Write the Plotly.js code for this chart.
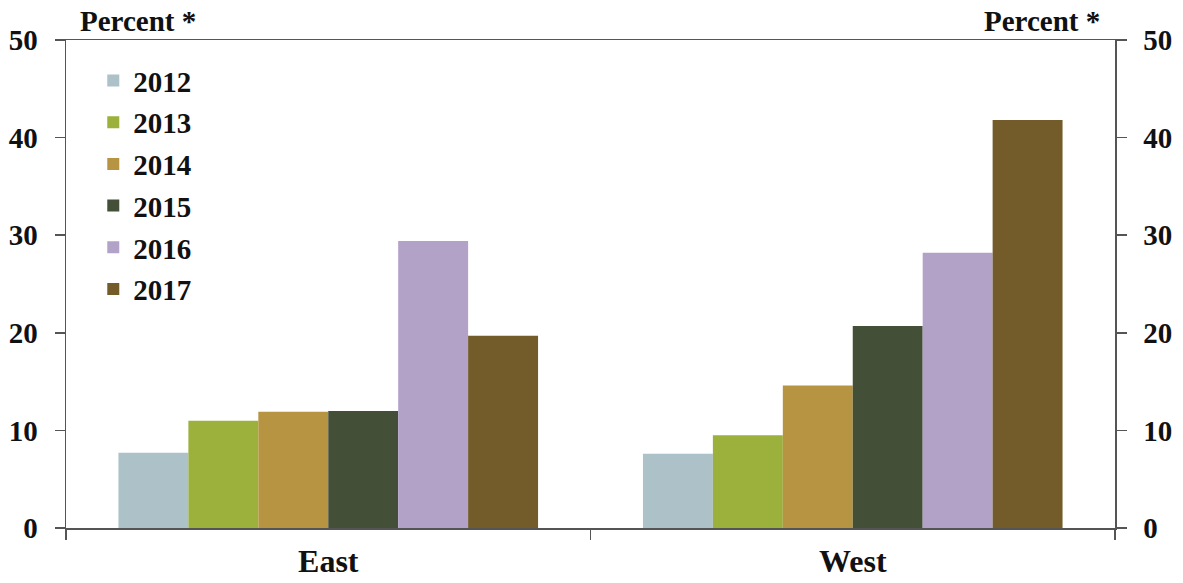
<!DOCTYPE html>
<html><head><meta charset="utf-8">
<script src="https://cdn.plot.ly/plotly-3.0.1.min.js"></script>
<style>html,body{margin:0;padding:0;background:#fff}#chart{width:1183px;height:583px}</style>
</head><body><div id="chart"></div>
<script>
const categories = ["East", "West"];
const years = ["2012", "2013", "2014", "2015", "2016", "2017"];
const v2012 = [7.7, 7.6];
const v2013 = [11.0, 9.5];
const v2014 = [11.9, 14.6];
const v2015 = [12.0, 20.7];
const v2016 = [29.4, 28.2];
const v2017 = [19.7, 41.8];
const colors = ["#adc1c8", "#9bb13b", "#b79442", "#434f36", "#b2a2c8", "#735b2a"];
const yTicks = [0, 10, 20, 30, 40, 50];

const series = [v2012, v2013, v2014, v2015, v2016, v2017];
const FONT = "Liberation Serif, Times New Roman, serif";
const traces = series.map((vals, i) => ({
  type: "bar", name: years[i], x: categories, y: vals,
  marker: {color: colors[i], line: {width: 0}},
  legendgroup: "g" + i, hoverinfo: "x+y+name"
}));
traces.push({type: "scatter", x: categories, y: [null, null], yaxis: "y2", mode: "markers", showlegend: false, hoverinfo: "skip"});

const axisLine = "#555555";
const tf = {family: FONT, size: 29, weight: "bold", color: "#111"};
const layout = {
  width: 1183, height: 583,
  margin: {l: 66, r: 68, t: 40, b: 55},
  paper_bgcolor: "#fff", plot_bgcolor: "#fff",
  font: {family: FONT, color: "#111", size: 22},
  barmode: "group", bargap: 0.2, bargroupgap: 0,
  showlegend: true,
  legend: {x: 0.026, y: 0.969, xanchor: "left", yanchor: "top", traceorder: "grouped", tracegroupgap: 1,
           font: {family: FONT, size: 29, color: "#111", weight: "bold"}, bgcolor: "rgba(0,0,0,0)", itemwidth: 30},
  xaxis: {type: "category", showline: true, linecolor: axisLine, linewidth: 1.5, mirror: true,
          ticks: "outside", tickson: "boundaries", ticklen: 10, tickcolor: axisLine, tickwidth: 1.5,
          tickfont: {family: FONT, size: 32, weight: "bold", color: "#111"}, ticklabelstandoff: 4,
          showgrid: false, zeroline: false},
  yaxis: {range: [0, 50], tickvals: yTicks, showline: true, linecolor: axisLine, linewidth: 1.5,
          ticks: "outside", ticklen: 10, tickcolor: axisLine, tickwidth: 1.5, showgrid: false, zeroline: false,
          tickfont: tf, ticklabelstandoff: 11},
  yaxis2: {range: [0, 50], tickvals: yTicks, overlaying: "y", side: "right", showline: true, linecolor: axisLine, linewidth: 1.5,
          ticks: "outside", ticklen: 10, tickcolor: axisLine, tickwidth: 1.5, showgrid: false, zeroline: false,
          tickfont: tf, ticklabelstandoff: 11},
  annotations: [
    {text: "Percent *", xref: "paper", yref: "paper", x: 0.011, y: 1.0, xanchor: "left", yanchor: "bottom", yshift: 1, showarrow: false,
     font: tf},
    {text: "Percent *", xref: "paper", yref: "paper", x: 0.988, y: 1.0, xanchor: "right", yanchor: "bottom", yshift: 1, showarrow: false,
     font: tf}
  ]
};
Plotly.newPlot("chart", traces, layout, {displayModeBar: false, staticPlot: true});
</script></body></html>
